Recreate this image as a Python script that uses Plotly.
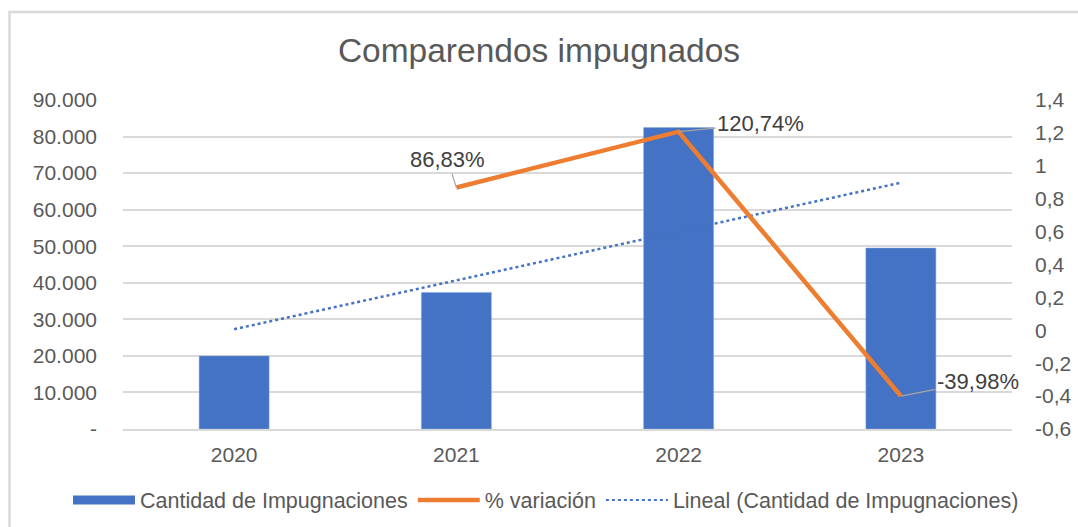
import numpy as np
import plotly.graph_objects as go

years = [2020, 2021, 2022, 2023]
impugnaciones = [20000, 37366, 82481, 49505]
var_years = [2021, 2022, 2023]
variacion = [0.8683, 1.2074, -0.3998]
var_labels = ["86,83%", "120,74%", "-39,98%"]

left_ticks = [0, 10000, 20000, 30000, 40000, 50000, 60000, 70000, 80000, 90000]
left_text = ["-", "10.000", "20.000", "30.000", "40.000", "50.000", "60.000", "70.000", "80.000", "90.000"]
right_ticks = [-0.6, -0.4, -0.2, 0, 0.2, 0.4, 0.6, 0.8, 1.0, 1.2, 1.4]
right_text = ["-0,6", "-0,4", "-0,2", "0", "0,2", "0,4", "0,6", "0,8", "1", "1,2", "1,4"]

# linear trendline (least squares of the bar series, as Excel does)
coef = np.polyfit(years, impugnaciones, 1)
trend = np.polyval(coef, years)

FONT = "Liberation Sans, Arial, sans-serif"
GREY = "#595959"
BLUE = "#4472C4"
ORANGE = "#ED7D31"
TICK = 21

fig = go.Figure()
fig.add_trace(go.Bar(x=years, y=impugnaciones, name="Cantidad de Impugnaciones",
                     showlegend=False,
                     marker=dict(color=BLUE, line=dict(color="#8faadc", width=0.5))))
fig.add_trace(go.Scatter(x=var_years, y=variacion, name="% variación", yaxis="y2",
                         mode="lines", line=dict(color=ORANGE, width=4.5), showlegend=False))
fig.add_trace(go.Scatter(x=years, y=trend, name="Lineal (Cantidad de Impugnaciones)",
                         mode="lines", line=dict(color=BLUE, width=2.5, dash="dot"),
                         showlegend=False))
# legend entries (Excel-style wide swatches)
fig.add_trace(go.Scatter(x=[None], y=[None], mode="lines", name="Cantidad de Impugnaciones",
                         line=dict(color=BLUE, width=9)))
fig.add_trace(go.Scatter(x=[None], y=[None], mode="lines", name="% variación",
                         line=dict(color=ORANGE, width=4.5)))
fig.add_trace(go.Scatter(x=[None], y=[None], mode="lines",
                         name="Lineal (Cantidad de Impugnaciones)",
                         line=dict(color=BLUE, width=2, dash="dot")))

offsets = [(-9, -28), (82, -8), (77, -15)]
for xv, yv, t, (ax, ay) in zip(var_years, variacion, var_labels, offsets):
    fig.add_annotation(x=xv, y=yv, xref="x", yref="y2", text=t, showarrow=True,
                       arrowhead=0, arrowwidth=1.2, arrowcolor="#a6a6a6", standoff=0,
                       ax=ax, ay=ay, font=dict(family=FONT, size=22, color="#404040"))

L, R, T, B = 123, 66, 100, 98
W, H = 1078, 527
pw, ph = W - L - R, H - T - B
fig.add_shape(type="rect", xref="paper", yref="paper",
              x0=(9.5 - L) / pw, x1=(1080 - L) / pw,
              y0=(H - B - 540) / ph, y1=(H - B - 12) / ph,
              line=dict(color="#d9d9d9", width=2.5), layer="below")

fig.update_layout(
    width=W, height=H,
    margin=dict(l=L, r=R, t=T, b=B, autoexpand=False),
    paper_bgcolor="white", plot_bgcolor="white",
    title=dict(text="Comparendos impugnados", x=0.5, xref="container", xanchor="center",
               y=1 - 50 / H, yanchor="middle", font=dict(family=FONT, size=33.5, color=GREY)),
    font=dict(family=FONT, size=TICK, color=GREY),
    bargap=0.685,
    showlegend=True,
    legend=dict(orientation="h", x=(68 - L) / pw, xanchor="left", y=(H - B - 500) / ph,
                yanchor="middle", font=dict(family=FONT, size=21.5, color=GREY),
                itemwidth=62, bgcolor="rgba(0,0,0,0)"),
    xaxis=dict(range=[2019.5, 2023.5], tickvals=years, ticktext=[str(y) for y in years],
               showgrid=False, showline=True, linecolor="#d9d9d9", zeroline=False,
               linewidth=1.5, ticks="", ticklabelstandoff=6, automargin=False,
               tickfont=dict(family=FONT, size=TICK, color=GREY)),
    yaxis=dict(range=[0, 90000], tickvals=left_ticks, ticktext=left_text,
               showgrid=True, gridcolor="#d9d9d9", gridwidth=1.5, zeroline=False,
               showline=False, ticks="", ticklabelstandoff=25, automargin=False,
               tickfont=dict(family=FONT, size=TICK, color=GREY)),
    yaxis2=dict(range=[-0.6, 1.4], tickvals=right_ticks, ticktext=right_text,
                overlaying="y", side="right", showgrid=False, zeroline=False,
                showline=False, ticks="", ticklabelstandoff=22, automargin=False,
                tickfont=dict(family=FONT, size=TICK, color=GREY)),
)

fig.write_html("out.html", config={"displayModeBar": False},
               post_script="document.body.style.margin='0';")
